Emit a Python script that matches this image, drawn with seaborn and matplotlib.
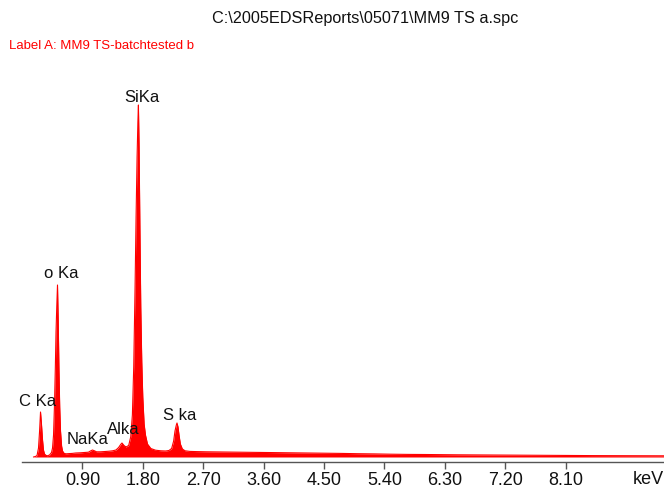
import matplotlib
matplotlib.use("Agg")
import matplotlib.pyplot as plt
import seaborn as sns
import pandas as pd

# ---- data ----
energy_kev = [0.17, 0.20, 0.224, 0.246, 0.262, 0.276, 0.290, 0.306, 0.320, 0.335, 0.36, 0.38,
              0.41, 0.44, 0.455, 0.47, 0.484, 0.497, 0.507, 0.518, 0.529, 0.540, 0.55, 0.562,
              0.574, 0.59, 0.604, 0.63, 0.66, 0.70, 0.75, 0.80, 0.87, 0.93, 0.99, 1.02, 1.05,
              1.08, 1.11, 1.17, 1.24, 1.30, 1.35, 1.40, 1.44, 1.47, 1.49, 1.52, 1.55, 1.59,
              1.62, 1.645, 1.665, 1.685, 1.70, 1.715, 1.727, 1.735, 1.745, 1.757, 1.77, 1.785,
              1.80, 1.82, 1.84, 1.87, 1.92, 1.99, 2.07, 2.14, 2.19, 2.23, 2.26, 2.28, 2.30,
              2.31, 2.325, 2.34, 2.36, 2.39, 2.43, 2.50, 2.60, 2.75, 3.00, 3.25, 3.50, 3.75,
              4.00, 4.25, 4.50, 4.75, 5.00, 5.25, 5.50, 5.75, 6.00, 6.50, 7.00, 7.50, 8.00,
              8.50, 9.00, 9.57]
counts = [0, 5, 15, 90, 260, 450, 330, 170, 70, 30, 15, 12,
          20, 45, 90, 220, 520, 900, 1250, 1500, 1720, 1350, 900, 500,
          260, 110, 60, 35, 32, 34, 36, 40, 42, 45, 48, 60, 70,
          62, 52, 52, 55, 58, 62, 70, 95, 125, 140, 115, 100, 115,
          200, 420, 900, 1700, 2400, 3000, 3350, 3520, 3100, 2300, 1500, 950,
          600, 330, 220, 130, 85, 68, 62, 60, 65, 85, 160, 260, 320,
          340, 300, 220, 130, 80, 62, 56, 54, 52, 50, 48, 46, 44,
          42, 40, 38, 36, 33, 31, 28, 26, 25, 22, 20, 18, 16,
          14, 13, 12]
tick_values = [0.90, 1.80, 2.70, 3.60, 4.50, 5.40, 6.30, 7.20, 8.10]
tick_labels = ["0.90", "1.80", "2.70", "3.60", "4.50", "5.40", "6.30", "7.20", "8.10"]
peak_labels = ["C Ka", "o Ka", "NaKa", "Alka", "SiKa", "S ka"]
title_text = "C:\\2005EDSReports\\05071\\MM9 TS a.spc"
label_text = "Label A: MM9 TS-batchtested b"

df = pd.DataFrame({"energy": energy_kev, "counts": counts})

sns.set_theme(style="white")
plt.rcParams["font.family"] = ["Liberation Sans", "DejaVu Sans"]

W, H = 664, 488
fig = plt.figure(figsize=(W / 100, H / 100), dpi=100)
ax = fig.add_axes([22 / W, 26 / H, 642 / W, 402 / H])

red = "#ff0000"
ax.fill_between(df["energy"], 0, df["counts"], color=red, linewidth=0)
sns.lineplot(data=df, x="energy", y="counts", ax=ax, color=red, linewidth=0.8)

ax.set_xlim(0, 642 / 67.1)
ax.set_ylim(-50, 3970)
ax.set_xticks(tick_values)
ax.set_xticklabels(tick_labels, fontsize=13, color="#111111")
ax.set_yticks([])
ax.set_xlabel("")
ax.set_ylabel("")
for s in ["top", "right", "left"]:
    ax.spines[s].set_visible(False)
ax.spines["bottom"].set_color("#555555")
ax.spines["bottom"].set_linewidth(1.0)
ax.tick_params(axis="x", direction="out", length=5, width=1, color="#555555", pad=2,
               bottom=True)

def fx(px):
    return px / W

def fy(py):
    return 1 - py / H

# peak labels (figure pixel positions)
label_pos = [(38, 401), (61, 273), (88, 440), (123, 430), (142, 98), (180, 415)]
for txt, (px, py) in zip(peak_labels, label_pos):
    fig.text(fx(px), fy(py), txt, ha="center", va="center", fontsize=12, color="#111111")

fig.text(fx(648), fy(479), "keV", ha="center", va="center", fontsize=13, color="#111111")
fig.text(fx(365), fy(19), title_text, ha="center", va="center", fontsize=11.7, color="#111111")
fig.text(fx(9), fy(46), label_text, ha="left", va="center", fontsize=9.5, color=red)

fig.savefig("out.png", dpi=100)
